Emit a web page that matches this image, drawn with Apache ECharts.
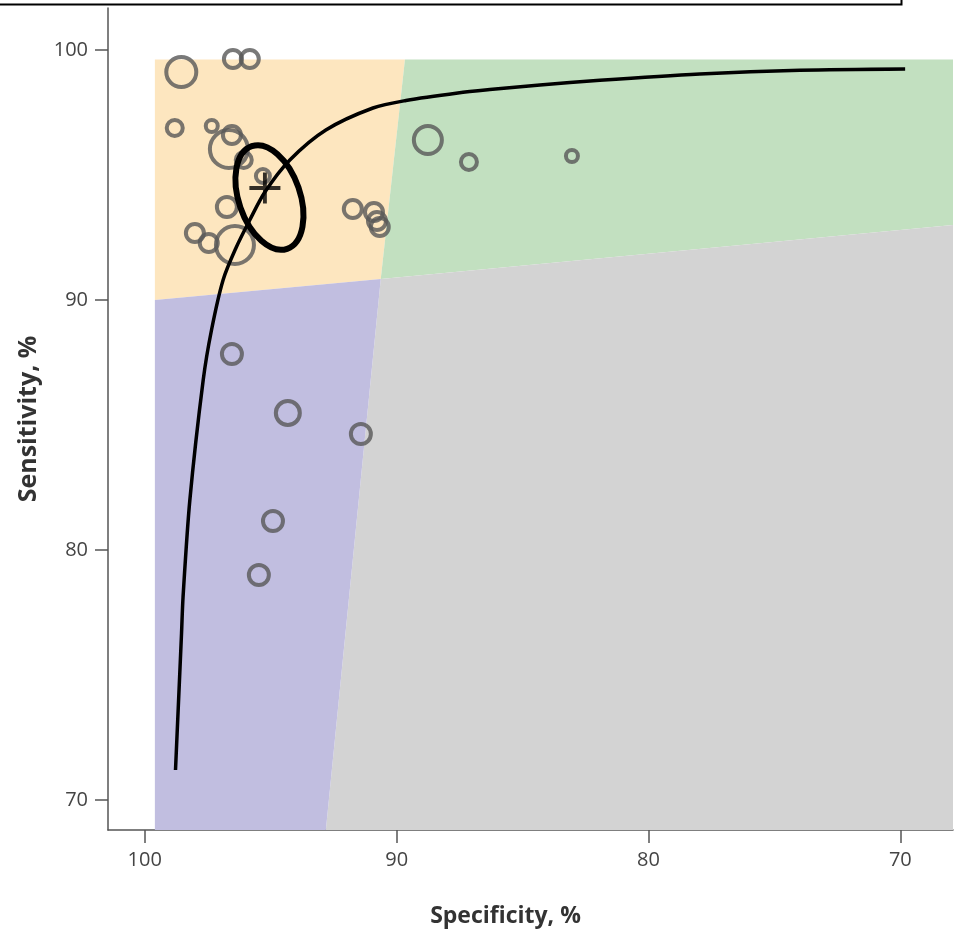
<!DOCTYPE html>
<html><head><meta charset="utf-8">
<script src="https://cdn.jsdelivr.net/npm/echarts@6/dist/echarts.min.js"></script>
<style>html,body{margin:0;padding:0;background:#fff}#c{width:956px;height:935px}</style>
</head><body><div id="c"></div>
<script>
// ---- tick labels ----
const xTicks = [100, 90, 80, 70];
const yTicks = [100, 90, 80, 70];

// ---- shaded regions: [specificity, sensitivity] vertices ----
const regionOrange = [[99.6, 99.62], [89.67, 99.62], [90.63, 90.84], [99.6, 90.0]];
const regionGreen  = [[89.67, 99.62], [67.91, 99.62], [67.91, 93.0], [90.63, 90.84]];
const regionGrey   = [[90.63, 90.84], [67.91, 93.0], [67.91, 68.8], [92.81, 68.8]];
const regionPurple = [[99.6, 90.0], [90.63, 90.84], [92.81, 68.8], [99.6, 68.8]];

// ---- individual studies ----
const studySpec = [98.55, 96.50, 95.83, 98.81, 97.34, 96.54, 96.66, 96.07, 95.31, 96.74, 98.01, 97.46, 96.42,
                   91.74, 90.90, 90.78, 90.67, 88.76, 87.13, 83.04, 96.54, 94.32, 91.42, 94.91, 95.47];
const studySens = [99.12, 99.64, 99.64, 96.88, 96.96, 96.60, 96.04, 95.60, 94.96, 93.72, 92.68, 92.28, 92.20,
                   93.64, 93.52, 93.16, 92.92, 96.40, 95.52, 95.76, 87.84, 85.48, 84.64, 81.16, 79.00];
const studyWeight = [17, 11, 11, 10, 8, 11, 21, 10, 9, 12, 11, 11, 21,
                     11, 11, 11, 11, 16, 10, 8, 12, 14, 12, 12, 12];

// ---- SROC curve ----
const curveSpec = [98.78, 98.54, 98.48, 98.21, 97.68, 97.35, 96.89, 96.38, 95.83, 95.23, 94.24, 92.81,
                   90.94, 89.63, 87.57, 86.30, 84.31, 81.93, 77.96, 73.99, 69.81];
const curveSens = [71.2, 76.68, 78.12, 82.0, 86.8, 88.8, 90.8, 92.08, 93.2, 94.32, 95.6, 96.8,
                   97.68, 97.98, 98.28, 98.416, 98.6, 98.79, 99.04, 99.19, 99.24];

// ---- summary point and 95% confidence region ----
const summarySpec = [95.23];
const summarySens = [94.48];
const ellipseCenter = [95.05, 94.1];
const ellipseSemiAxes = [1.22, 2.17];   // in axis units
const ellipseAngleDeg = 19;

const FONT = "'Open Sans', 'Noto Sans', sans-serif";

function regionSeries(pts, color) {
  return {
    type: 'custom', coordinateSystem: 'cartesian2d', silent: true, z: 1, clip: true,
    data: pts, encode: { x: 0, y: 1 },
    renderItem: function (params, api) {
      if (params.dataIndex !== 0) return null;
      const points = pts.map(p => api.coord(p));
      return { type: 'polygon', shape: { points: points }, style: { fill: color, stroke: null } };
    }
  };
}

const chart = echarts.init(document.getElementById('c'), null, { renderer: 'canvas' });
const axisColor = '#555';
chart.setOption({
  animation: false,
  backgroundColor: '#fff',
  textStyle: { fontFamily: FONT },
  graphic: [{
    type: 'rect', z: 100,
    shape: { x: -4, y: -6, width: 905.5, height: 10.5 },
    style: { fill: 'none', stroke: '#000', lineWidth: 2 }
  }],
  grid: { left: 108, right: 3, top: 8, bottom: 105, containLabel: false },
  xAxis: {
    type: 'value', inverse: true, min: 67.91, max: 101.46,
    name: 'Specificity, %', nameLocation: 'middle', nameGap: 75,
    nameTextStyle: { fontSize: 23, fontWeight: 'bold', color: '#333', fontFamily: FONT, padding: [0, 50, 0, 0] },
    axisLine: { show: true, onZero: false, lineStyle: { color: axisColor, width: 1.5 } },
    axisTick: { show: true, inside: false, length: 13, customValues: xTicks, lineStyle: { color: axisColor, width: 1.5 } },
    axisLabel: { customValues: xTicks, margin: 20, fontSize: 20, color: '#444', fontFamily: FONT },
    splitLine: { show: false }
  },
  yAxis: {
    type: 'value', min: 68.8, max: 101.68,
    name: 'Sensitivity, %', nameLocation: 'middle', nameGap: 67,
    nameTextStyle: { fontSize: 25, fontWeight: 'bold', color: '#333', fontFamily: FONT },
    axisLine: { show: true, onZero: false, lineStyle: { color: axisColor, width: 1.5 } },
    axisTick: { show: true, inside: false, length: 13, customValues: yTicks, lineStyle: { color: axisColor, width: 1.5 } },
    axisLabel: { customValues: yTicks, margin: 20, fontSize: 20, color: '#444', fontFamily: FONT },
    splitLine: { show: false }
  },
  series: [
    regionSeries(regionOrange, '#fde6bf'),
    regionSeries(regionGreen, '#c2e0c0'),
    regionSeries(regionGrey, '#d3d3d3'),
    regionSeries(regionPurple, '#c1bee0'),
    {
      type: 'scatter', z: 3, silent: true,
      data: studySpec.map((s, i) => [s, studySens[i], studyWeight[i]]),
      symbol: 'circle',
      symbolSize: function (v) { return v[2] * 2 - 4; },
      itemStyle: { color: 'rgba(0,0,0,0)', borderColor: '#585858', borderWidth: 4 }
    },
    {
      type: 'line', z: 4, silent: true, smooth: 0.3, showSymbol: false,
      data: curveSpec.map((s, i) => [s, curveSens[i]]),
      lineStyle: { color: '#000', width: 3.5 }
    },
    {
      type: 'custom', coordinateSystem: 'cartesian2d', z: 5, silent: true,
      data: [[ellipseCenter[0], ellipseCenter[1], ellipseSemiAxes[0], ellipseSemiAxes[1], ellipseAngleDeg]],
      renderItem: function (params, api) {
        const c = api.coord([api.value(0), api.value(1)]);
        const s = api.size([1, 1]);
        return {
          type: 'ellipse', x: c[0], y: c[1], rotation: api.value(4) * Math.PI / 180,
          shape: { cx: 0, cy: 0, rx: api.value(2) * s[0], ry: api.value(3) * s[1] },
          style: { fill: 'none', stroke: '#000', lineWidth: 6 }
        };
      }
    },
    {
      type: 'scatter', z: 6, silent: true,
      data: summarySpec.map((s, i) => [s, summarySens[i]]),
      symbol: 'path://M-2,-16 L2,-16 L2,-2 L16,-2 L16,2 L2,2 L2,16 L-2,16 L-2,2 L-16,2 L-16,-2 L-2,-2 Z',
      symbolSize: 31,
      itemStyle: { color: '#000' }
    }
  ]
});
</script>
</body></html>
